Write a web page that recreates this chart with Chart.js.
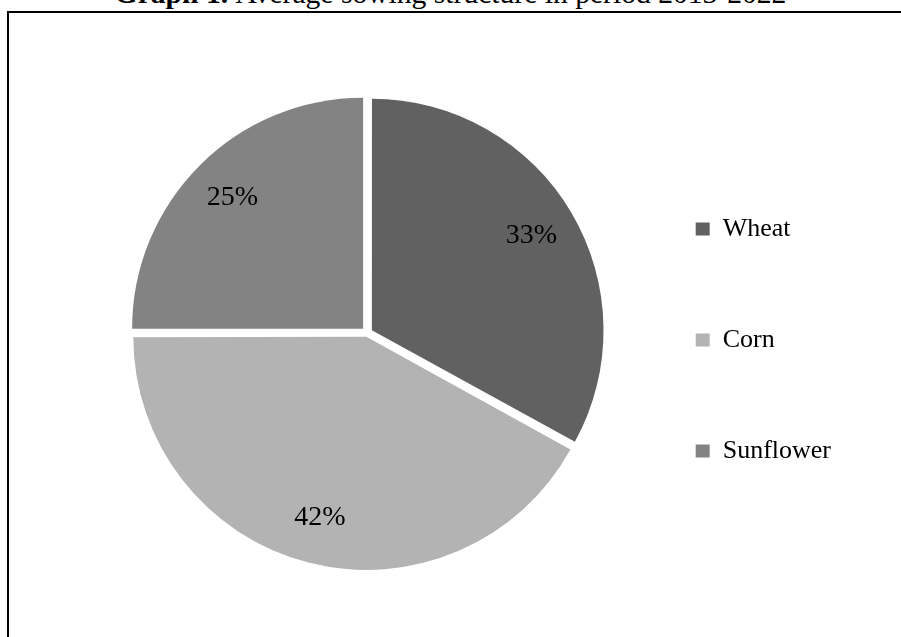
<!DOCTYPE html>
<html>
<head>
<meta charset="utf-8">
<script src="https://cdn.jsdelivr.net/npm/chart.js@4"></script>
<style>
  html, body { margin: 0; padding: 0; background: #fff; overflow: hidden; width: 901px; height: 637px; }
  #title {
    position: absolute; left: 0; top: -22px; width: 901px;
    text-align: center; white-space: nowrap; color: #000;
    font-family: "Liberation Serif", "Times New Roman", serif;
    font-size: 29.6px; line-height: 30px;
  }
  #frame {
    position: absolute; left: 7px; top: 11px; width: 1000px; height: 700px;
    border-left: 2px solid #000; border-top: 2px solid #000;
  }
  #wrap { position: absolute; left: 9px; top: 13px; width: 832px; height: 624px; }
</style>
</head>
<body>
<div id="title"><b>Graph 1.</b>&nbsp;Average sowing structure in period 2013-2022</div>
<div id="frame"></div>
<div id="wrap"><canvas id="sowing-chart"></canvas></div>
<script>
  // average share of sown area, %
  const categories = ['Wheat', 'Corn', 'Sunflower'];
  const shares = [33, 42, 25];
  const sliceColors = ['#616161', '#b3b3b3', '#838383'];
  // pull-out per slice (Chart.js scales this by the arc size)
  const explode = [21, 16, 24];

  const SERIF = '"Liberation Serif", "Times New Roman", serif';

  // percentage text inside each slice
  const sliceLabels = {
    id: 'sliceLabels',
    afterDatasetsDraw(chart) {
      const ctx = chart.ctx;
      const meta = chart.getDatasetMeta(0);
      const total = shares.reduce((a, b) => a + b, 0);
      ctx.save();
      ctx.font = '28px ' + SERIF;
      ctx.fillStyle = '#000';
      ctx.textAlign = 'center';
      ctx.textBaseline = 'middle';
      meta.data.forEach((arc, i) => {
        const p = arc.getProps(['x', 'y', 'startAngle', 'endAngle', 'outerRadius', 'circumference']);
        const mid = (p.startAngle + p.endAngle) / 2;
        const off = (arc.options.offset || 0) / 4 * (2 - Math.sin(Math.min(Math.PI, p.circumference)));
        const r = p.outerRadius * 0.8 + off;
        const pct = Math.round(shares[i] / total * 100) + '%';
        ctx.fillText(pct, p.x + Math.cos(mid) * r, p.y + Math.sin(mid) * r);
      });
      ctx.restore();
    }
  };

  const ctx = document.getElementById('sowing-chart').getContext('2d');
  new Chart(ctx, {
    type: 'pie',
    data: {
      labels: categories,
      datasets: [{
        data: shares,
        backgroundColor: sliceColors,
        borderWidth: 0,
        offset: explode
      }]
    },
    options: {
      responsive: true,
      maintainAspectRatio: false,
      animation: false,
      radius: 231,
      layout: { padding: { left: 115, top: 16, right: 0, bottom: 0 } },
      plugins: {
        tooltip: { enabled: false },
        legend: {
          position: 'right',
          // empty title only pushes the items down a little
          title: { display: true, text: ' ', font: { size: 10 }, padding: 1 },
          labels: {
            boxWidth: 14,
            boxHeight: 13,
            padding: 85,
            color: '#000',
            font: { family: SERIF, size: 26 }
          }
        }
      }
    },
    plugins: [sliceLabels]
  });
</script>
</body>
</html>
